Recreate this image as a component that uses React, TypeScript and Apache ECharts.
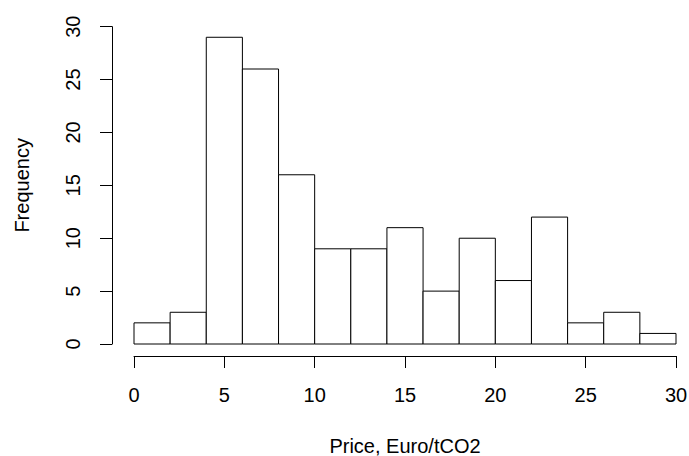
import React, { useEffect, useRef } from "react";
import * as echarts from "echarts";

const breaks = [0, 2, 4, 6, 8, 10, 12, 14, 16, 18, 20, 22, 24, 26, 28, 30];
const counts = [2, 3, 29, 26, 16, 9, 9, 11, 5, 10, 6, 12, 2, 3, 1];
const xTitle = "Price, Euro/tCO2";
const yTitle = "Frequency";

export default function App() {
  const ref = useRef<HTMLDivElement>(null);
  useEffect(() => {
    if (!ref.current) return;
    document.body.style.margin = "0";
    const chart = echarts.init(ref.current, null, { renderer: "svg" });
    const data = counts.map((c, i) => [breaks[i], breaks[i + 1], c]);
    const font = "Liberation Sans, Arial, Helvetica, sans-serif";
    chart.setOption({
      animation: false,
      backgroundColor: "#ffffff",
      grid: { left: 134, right: 13, top: 26.7, bottom: 112, containLabel: false, outerBoundsMode: "none" },
      xAxis: {
        type: "value",
        min: 0,
        max: 30,
        interval: 5,
        offset: 12,
        name: xTitle,
        nameLocation: "middle",
        nameGap: 80,
        nameMoveOverlap: false,
        nameTextStyle: { color: "#000", fontSize: 20, fontFamily: font },
        axisLine: { show: true, onZero: false, lineStyle: { color: "#000", width: 1 } },
        axisTick: { show: true, length: 12, lineStyle: { color: "#000", width: 1 } },
        axisLabel: { color: "#000", fontSize: 20, fontFamily: font, margin: 29 },
        splitLine: { show: false },
      },
      yAxis: {
        type: "value",
        min: 0,
        max: 30,
        interval: 5,
        offset: 22,
        name: yTitle,
        nameLocation: "middle",
        nameGap: 80,
        nameMoveOverlap: false,
        nameRotate: 90,
        nameTextStyle: { color: "#000", fontSize: 20, fontFamily: font },
        axisLine: { show: true, onZero: false, lineStyle: { color: "#000", width: 1 } },
        axisTick: { show: true, length: 12, lineStyle: { color: "#000", width: 1 } },
        axisLabel: { color: "#000", fontSize: 20, fontFamily: font, margin: 29, rotate: 90 },
        splitLine: { show: false },
      },
      series: [
        {
          type: "custom",
          data,
          encode: { x: [0, 1], y: 2 },
          renderItem: (params: any, api: any) => {
            const lo = api.value(0);
            const hi = api.value(1);
            const c = api.value(2);
            const p1 = api.coord([lo, c]);
            const p2 = api.coord([hi, 0]);
            return {
              type: "rect",
              shape: { x: p1[0], y: p1[1], width: p2[0] - p1[0], height: p2[1] - p1[1] },
              style: { fill: "#ffffff", stroke: "#000000", lineWidth: 1 },
            };
          },
        },
      ],
    });
    return () => chart.dispose();
  }, []);
  return <div ref={ref} style={{ width: 689, height: 456 }} />;
}
